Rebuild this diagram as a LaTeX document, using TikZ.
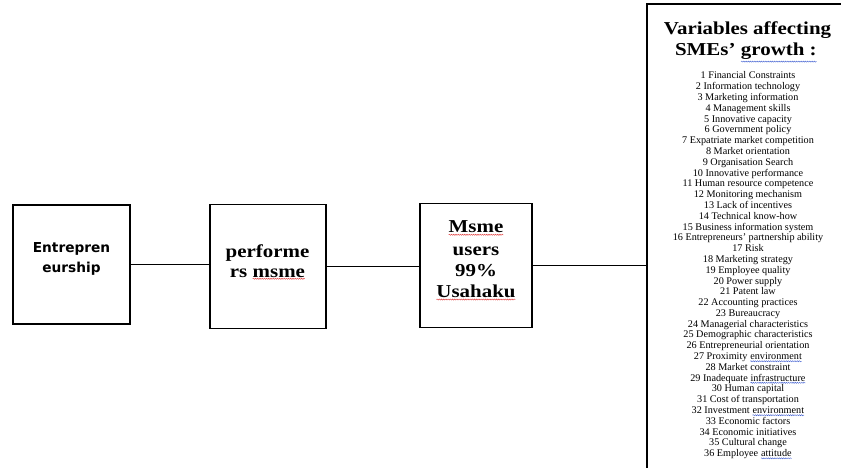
\documentclass[tikz,border=0pt]{standalone}
\usepackage{fontspec}
\setmainfont{Liberation Serif}
\newfontfamily\tms[FakeStretch=1.15]{Liberation Serif}
\newfontfamily\dvs{DejaVu Sans}
\usetikzlibrary{decorations.pathmorphing}
\definecolor{squigred}{RGB}{225,60,60}
\definecolor{squigblue}{RGB}{70,100,210}
\newcommand\squig[2]{\tikz[baseline=(sq.base)]{\node[inner sep=0pt,outer sep=0pt] (sq) {#2};\draw[#1,line width=0.45pt,decorate,decoration={snake,amplitude=0.55pt,segment length=2.2pt}] ([yshift=-1.6pt]sq.south west) -- ([yshift=-1.6pt]sq.south east);}}
\begin{document}
\begin{tikzpicture}[x=1pt,y=-1pt,
  box/.style={draw,line width=1.3pt,inner sep=0pt},
  conn/.style={line width=1.9pt},
  sanslbl/.style={font=\dvs\bfseries\fontsize{13.7}{16}\selectfont,inner sep=0pt,anchor=base},
  serlbl/.style={font=\tms\bfseries\fontsize{18.2}{21}\selectfont,inner sep=0pt,anchor=base},
  headlbl/.style={font=\tms\bfseries\fontsize{18.2}{21}\selectfont,inner sep=0pt,anchor=base},
  listtxt/.style={font=\rmfamily\fontsize{10.2}{11}\selectfont,inner sep=0pt,anchor=base}]
\useasboundingbox (0,0) rectangle (841,468);
% boxes
\node[box,minimum width=117pt,minimum height=119pt] (b1) at (71.5,264.5) {};
\node[box,minimum width=116pt,minimum height=124pt] (b2) at (268,266.5) {};
\node[box,minimum width=112pt,minimum height=124pt] (b3) at (476,265.5) {};
\node[draw,line width=1.8pt,minimum width=400pt,minimum height=600pt,anchor=north west,inner sep=0pt] (rb) at (646,3.5) {};
% connectors
\draw[conn] (b1.east) -- (b1.east -| b2.west);
\draw[conn] (b2.east) -- (b2.east -| b3.west);
\draw[conn] (b3.east) -- (b3.east -| rb.west);
% box texts
\node[sanslbl] (t1a) at (71.5,252) {Entrepren};
\node[sanslbl] (t1b) at (71.5,272) {eurship};
\node[serlbl] (t2a) at (267.5,257.7) {performe};
\node[serlbl] (t2b) at (267.5,277) {rs \squig{squigred}{msme}};
\node[serlbl] (t3a) at (476,233) {\squig{squigred}{Msme}};
\node[serlbl] (t3b) at (476,255) {users};
\node[serlbl] (t3c) at (476,276) {99\%};
\node[serlbl] (t3d) at (476,297.7) {\squig{squigred}{Usahaku}};
% header
\node[headlbl] (h1) at (747.5,35) {Variables affecting};
\node[headlbl] (h2) at (746,56) {SMEs’ \squig{squigblue}{growth :}};
% list
\foreach[count=\i] \t in {
 {1 Financial Constraints},
 {2 Information technology},
 {3 Marketing information},
 {4 Management skills},
 {5 Innovative capacity},
 {6 Government policy},
 {7 Expatriate market competition},
 {8 Market orientation},
 {9 Organisation Search},
 {10 Innovative performance},
 {11 Human resource competence},
 {12 Monitoring mechanism},
 {13 Lack of incentives},
 {14 Technical know-how},
 {15 Business information system},
 {16 Entrepreneurs’ partnership ability},
 {17 Risk},
 {18 Marketing strategy},
 {19 Employee quality},
 {20 Power supply},
 {21 Patent law},
 {22 Accounting practices},
 {23 Bureaucracy},
 {24 Managerial characteristics},
 {25 Demographic characteristics},
 {26 Entrepreneurial orientation},
 {27 Proximity \squig{squigblue}{environment}},
 {28 Market constraint},
 {29 Inadequate \squig{squigblue}{infrastructure}},
 {30 Human capital},
 {31 Cost of transportation},
 {32 Investment \squig{squigblue}{environment}},
 {33 Economic factors},
 {34 Economic initiatives},
 {35 Cultural change},
 {36 Employee \squig{squigblue}{attitude}}}
 {\node[listtxt] (l\i) at (748,{79+10.79*(\i-1)}) {\t};}
\end{tikzpicture}
\end{document}
